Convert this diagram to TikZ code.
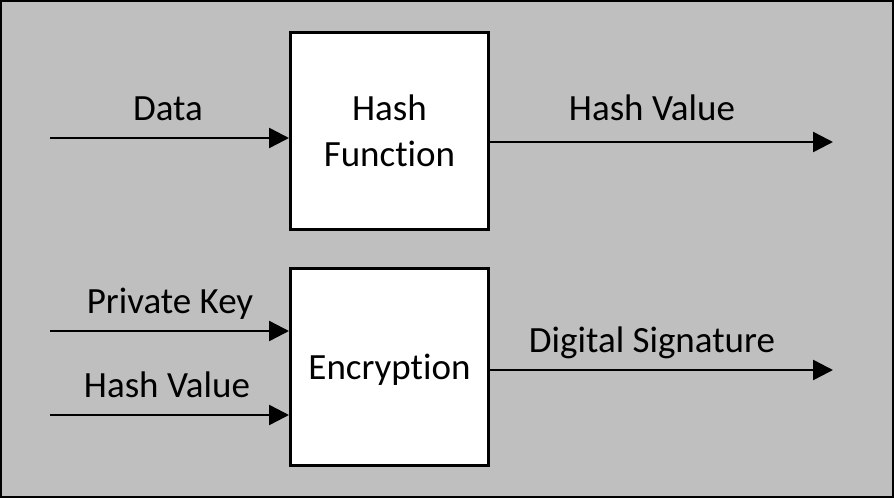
\documentclass[tikz,border=0pt]{standalone}
\usepackage{fontspec}
\setmainfont[Ligatures=NoCommon]{Carlito}
\usetikzlibrary{arrows.meta}
\begin{document}
\begin{tikzpicture}[x=1pt,y=-1pt,
  blk/.style={draw=black,fill=white,line width=3pt,minimum width=198pt,minimum height=197pt,inner sep=0pt,align=center,font=\fontsize{37}{46}\selectfont},
  arr/.style={line width=2.5pt,-{Triangle[length=20pt,width=20pt]}},
  lbl/.style={anchor=base,inner sep=0pt,font=\fontsize{37}{46}\selectfont}]
\useasboundingbox (0,0) rectangle (894,498);
\draw[fill=black!25,line width=2pt] (1,1) rectangle (893,497);
\node[blk] (hash) at (389.5,131) {Hash\\Function};
\node[blk] (enc) at (389.5,367) {};
\node[lbl] (enctext) at (389.5,379) {Encryption};
\coordinate (d0) at (50,138);
\coordinate (h1) at (833,142);
\coordinate (p0) at (50,331);
\coordinate (v0) at (50,415);
\coordinate (s1) at (833,370);
\draw[arr] (d0) -- (d0 -| hash.west);
\draw[arr] (hash.east |- h1) -- (h1);
\draw[arr] (p0) -- (p0 -| enc.west);
\draw[arr] (v0) -- (v0 -| enc.west);
\draw[arr] (enc.east |- s1) -- (s1);
\node[lbl] (ldata) at (168,120) {Data};
\node[lbl] (lhv) at (652,120) {Hash Value};
\node[lbl] (lpk) at (170,313) {Private Key};
\node[lbl] (lhv2) at (167,397) {Hash Value};
\node[lbl] (lds) at (652,352) {Digital Signature};
\end{tikzpicture}
\end{document}
